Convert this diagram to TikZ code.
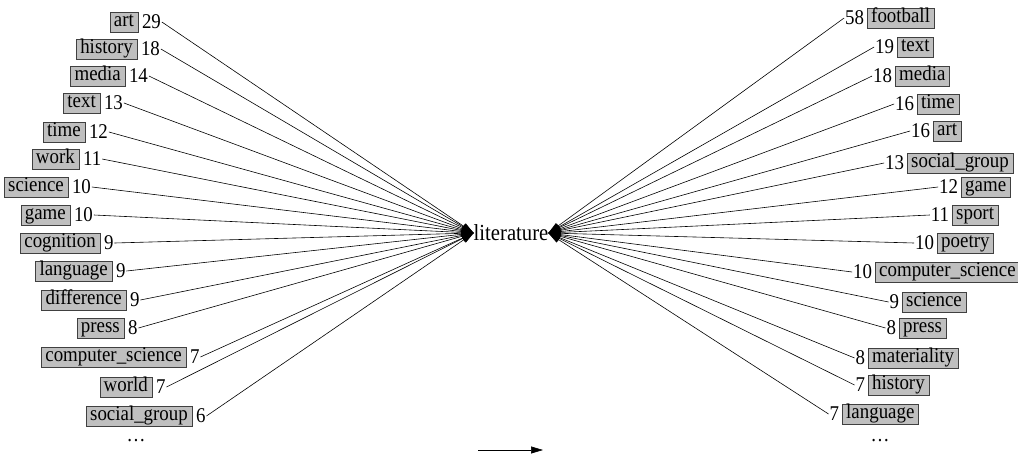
\documentclass[tikz,border=0pt]{standalone}
\usepackage{fontspec}
\setmainfont{Liberation Serif}[FakeStretch=0.9]
\usetikzlibrary{arrows.meta, positioning}

\begin{document}
\begin{tikzpicture}[
    x=1pt, y=-1pt,
    every node/.style={font=\fontsize{21}{24}\selectfont},
    word/.style={rectangle, draw=black!75, fill=black!25, inner xsep=4pt, inner ysep=1pt, text height=14pt, text depth=4.5pt},
    num/.style={inner sep=1pt, outer sep=0pt},
    centre/.style={inner sep=0pt, outer sep=0pt, font=\fontsize{23}{26}\selectfont},
    arrow/.style={-{Triangle[length=12pt, width=7pt]}, semithick}
]
\useasboundingbox (0,0) rectangle (1018,453);

% Centre word
\node[centre] (lit) at (511,233) {literature};

% Left column
\foreach \w/\n/\x/\y [count=\i] in {
    art/29/138/22, history/18/137/49, media/14/125/76, text/13/100/103,
    time/12/85/132, work/11/79/159, science/10/68/187, game/10/70/215,
    cognition/9/100/243, language/9/112/271, difference/9/126/300,
    press/8/124/328, computer\_science/7/186/357, world/7/152/387,
    social\_group/6/192/416} {
    \node[word, anchor=east] (l\i) at (\x,\y) {\w};
    \node[num, right=3pt of l\i] (ln\i) {\n};
    \draw[arrow] (ln\i.east) -- (lit.west);
}
\node (ldots) at (136,441) {\dots};

% Right column
\foreach \w/\n/\x/\y [count=\i] in {
    football/58/867/18, text/19/897/47, media/18/895/76, time/16/917/104,
    art/16/933/131, social\_group/13/907/163, game/12/961/187,
    sport/11/952/215, poetry/10/937/243, computer\_science/10/875/272,
    science/9/902/302, press/8/899/328, materiality/8/868/358,
    history/7/868/385, language/7/842/414} {
    \node[word, anchor=west] (r\i) at (\x,\y) {\w};
    \node[num, left=2pt of r\i] (rn\i) {\n};
    \draw[arrow] (rn\i.west) -- (lit.east);
}
\node (rdots) at (880,441) {\dots};

% Bottom arrow
\coordinate (a1) at (478,450);
\coordinate (a2) at (543,450);
\draw[arrow] (a1) -- (a2);

\end{tikzpicture}
\end{document}
